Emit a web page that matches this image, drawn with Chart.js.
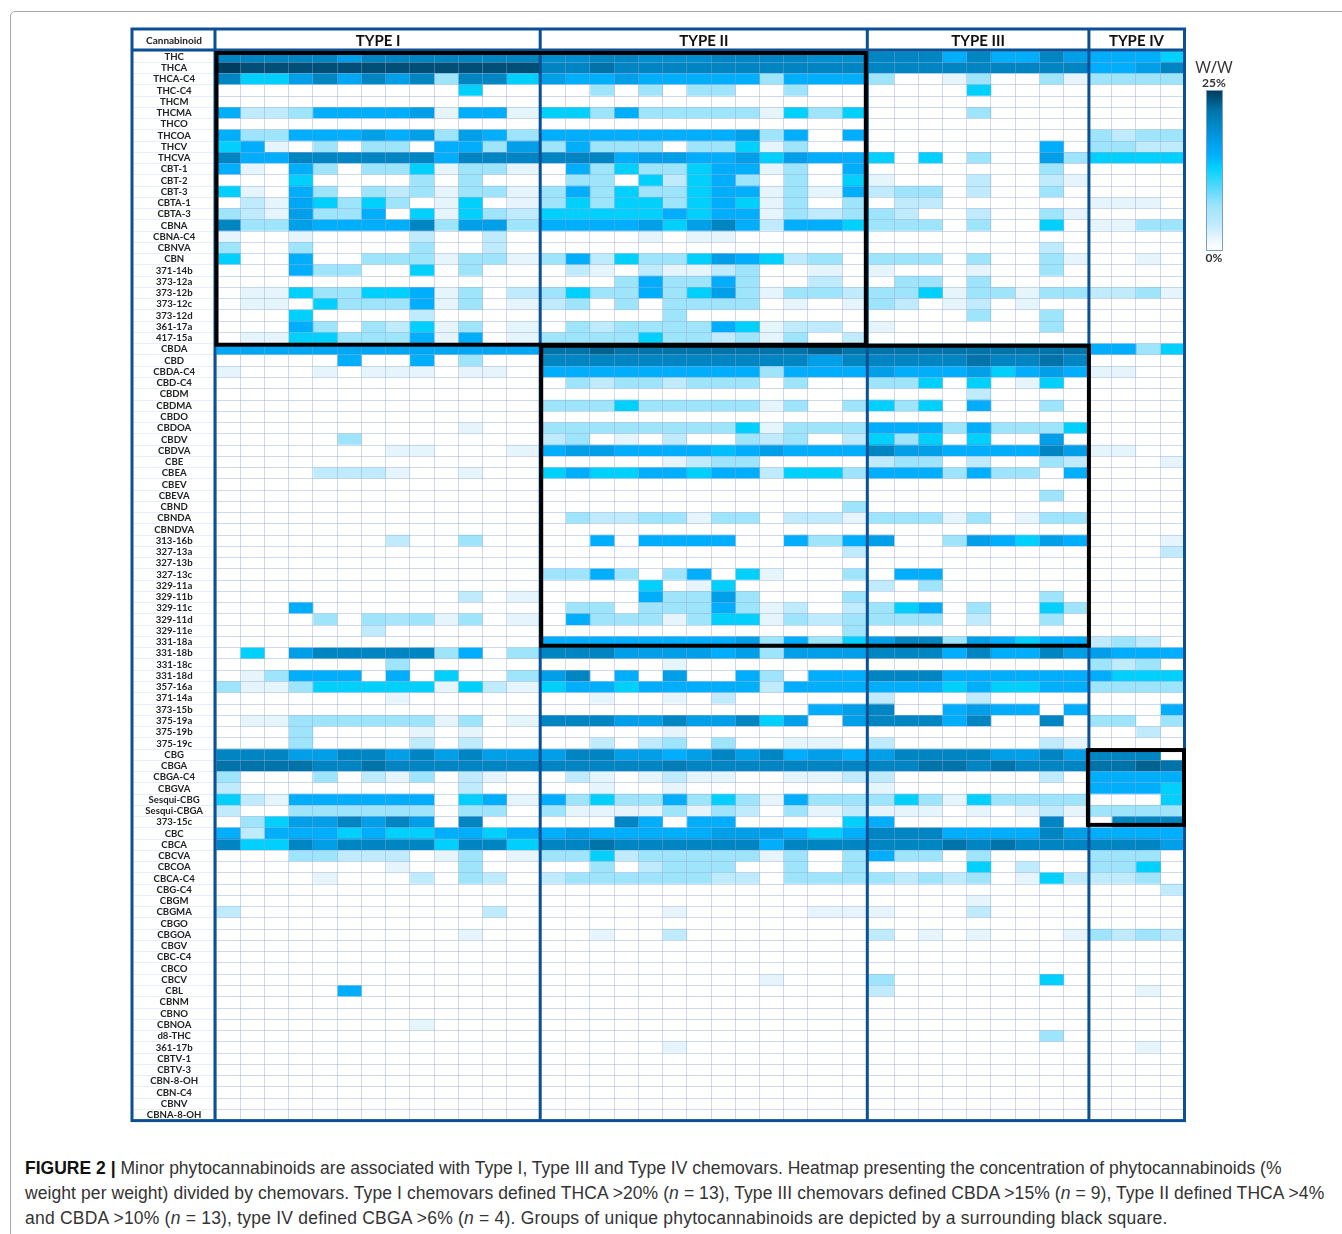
<!DOCTYPE html>
<html>
<head>
<meta charset="utf-8">
<script src="https://cdn.jsdelivr.net/npm/chart.js@4"></script>
<style>
  html, body { margin: 0; padding: 0; background: #fff; }
  body { position: relative; width: 1342px; height: 1234px; overflow: hidden; }
  canvas { position: absolute; left: 0; top: 0; filter: blur(0.35px); }
  #page-edge { position: absolute; left: 10px; top: 11px; width: 1340px; height: 1240px; border: 1px solid #a8a8a8; border-radius: 5px; }
  .abs { position: absolute; white-space: nowrap; }
  #head { left: 133px; width: 82px; top: 34px; text-align: center; font: bold 10px Lato; color: #222; }
  #ww { left: 1190px; width: 48px; top: 55px; text-align: center; font: 17px "Open Sans"; color: #333; }
  #top-lab { left: 1190px; width: 48px; top: 75px; text-align: center; font: bold 12px Lato; color: #333; }
  #bot-lab { left: 1190px; width: 48px; top: 250px; text-align: center; font: bold 12px Lato; color: #333; }
  #bar { left: 1206px; top: 90px; width: 15px; height: 159px; border: 1px solid #7d9ccb; }
  .cap { left: 25px; font: 17.5px "Liberation Sans"; color: #333; }
  .cap b { color: #111; }
</style>
</head>
<body>
<div id="page-edge"></div>
<canvas id="chart" width="1342" height="1130"></canvas>
<div class="abs" id="head">Cannabinoid</div>
<div class="abs" id="ww">W/W</div>
<div class="abs" id="top-lab">25%</div>
<div class="abs" id="bar"></div>
<div class="abs" id="bot-lab">0%</div>
<div class="abs cap" style="top:1158px;letter-spacing:0.01px"><b>FIGURE 2 |</b> Minor phytocannabinoids are associated with Type I, Type III and Type IV chemovars. Heatmap presenting the concentration of phytocannabinoids (%</div>
<div class="abs cap" style="top:1183px;letter-spacing:0.08px">weight per weight) divided by chemovars. Type I chemovars defined THCA &gt;20% (<i>n</i> = 13), Type III chemovars defined CBDA &gt;15% (<i>n</i> = 9), Type II defined THCA &gt;4%</div>
<div class="abs cap" style="top:1208px;letter-spacing:0.21px">and CBDA &gt;10% (<i>n</i> = 13), type IV defined CBGA &gt;6% (<i>n</i> = 4). Groups of unique phytocannabinoids are depicted by a surrounding black square.</div>
<script>
const cannabinoids = ['THC','THCA','THCA-C4','THC-C4','THCM','THCMA','THCO','THCOA','THCV','THCVA','CBT-1','CBT-2','CBT-3','CBTA-1','CBTA-3','CBNA','CBNA-C4','CBNVA','CBN','371-14b','373-12a','373-12b','373-12c','373-12d','361-17a','417-15a',
  'CBDA','CBD','CBDA-C4','CBD-C4','CBDM','CBDMA','CBDO','CBDOA','CBDV','CBDVA','CBE','CBEA','CBEV','CBEVA','CBND','CBNDA','CBNDVA','313-16b','327-13a','327-13b','327-13c','329-11a','329-11b','329-11c','329-11d','329-11e','331-18a',
  '331-18b','331-18c','331-18d','357-16a','371-14a','373-15b','375-19a','375-19b','375-19c',
  'CBG','CBGA','CBGA-C4','CBGVA','Sesqui-CBG','Sesqui-CBGA','373-15c','CBC','CBCA','CBCVA','CBCOA','CBCA-C4','CBG-C4','CBGM','CBGMA','CBGO','CBGOA','CBGV','CBC-C4','CBCO','CBCV','CBL','CBNM','CBNO','CBNOA','d8-THC','361-17b','CBTV-1','CBTV-3','CBN-8-OH','CBN-C4','CBNV','CBNA-8-OH'];

const chemovarTypes = ['TYPE I', 'TYPE II', 'TYPE III', 'TYPE IV'];

// % w/w, one row per cannabinoid, one column per chemovar
const typeI = [
  [20,20,20,20,20,17,20,20,20,20,20,20,20],
  [25,24,24,24,24,24,24,24,24,24,24,24,24],
  [20,13,13,17,20,16,20,17,20,7,20,20,13],
  [0,0,0,0,0,0,0,0,0,0,13,0,0],
  [0,0,0,0,0,0,0,0,0,0,0,0,0],
  [15,4,4,7,15,15,15,15,17,2,15,15,2],
  [0,0,0,0,0,0,0,0,0,0,0,0,0],
  [15,7,7,15,15,15,17,15,17,7,17,15,7],
  [13,15,2,0,7,0,7,7,0,15,15,7,17],
  [20,15,15,20,20,20,20,20,20,15,20,20,20],
  [15,2,0,15,7,0,7,7,13,2,7,7,2],
  [0,0,0,13,0,0,0,0,7,0,7,0,0],
  [13,2,0,15,7,0,7,4,7,2,7,7,2],
  [0,4,2,16,13,7,13,7,0,2,13,0,2],
  [7,4,2,17,7,7,15,0,13,2,13,7,4],
  [20,7,7,17,15,15,15,15,20,7,17,17,7],
  [2,0,0,2,0,0,0,0,4,0,0,4,0],
  [7,0,0,7,0,0,0,0,7,0,0,4,0],
  [13,0,0,15,0,0,7,7,7,2,7,7,2],
  [0,0,0,15,7,7,0,0,13,0,7,0,0],
  [0,0,0,0,0,0,0,0,0,0,0,0,0],
  [0,2,2,13,7,7,13,13,15,2,7,0,4],
  [0,2,2,0,13,7,7,7,15,2,7,0,2],
  [0,0,0,13,0,0,0,0,4,0,0,0,0],
  [0,0,0,15,7,0,7,4,13,2,7,0,2],
  [0,2,2,13,13,7,7,7,15,2,15,0,2],
  // CBDA
  [16,16,16,16,16,16,16,16,16,16,16,16,16],
  [0,0,0,0,0,15,0,0,15,0,7,0,0],
  [2,0,0,0,2,0,2,2,2,0,2,2,0],
  [0,0,0,0,0,0,0,0,0,0,0,0,0],
  [0,0,0,0,0,0,0,0,0,0,0,0,0],
  [0,0,0,0,0,0,0,0,0,0,0,0,0],
  [0,0,0,0,0,0,0,0,0,0,0,0,0],
  [0,0,0,0,0,0,0,0,0,0,2,0,0],
  [0,0,0,0,0,7,0,0,0,0,0,0,0],
  [0,0,0,0,0,0,0,2,2,0,0,0,2],
  [0,0,0,0,0,0,0,0,0,0,0,0,0],
  [0,0,0,0,4,4,4,2,0,0,2,0,0],
  [0,0,0,0,0,0,0,0,0,0,0,0,0],
  [0,0,0,0,0,0,0,0,0,0,0,0,0],
  [0,0,0,0,0,0,0,0,0,0,0,0,0],
  [0,0,0,0,0,0,0,0,0,0,0,0,0],
  [0,0,0,0,0,0,0,0,0,0,0,0,0],
  [0,0,0,0,0,0,0,4,0,0,7,0,0],
  [0,0,0,0,0,0,0,0,0,0,0,0,0],
  [0,0,0,0,0,0,0,0,0,0,0,0,0],
  [0,0,0,0,0,0,0,0,0,0,0,0,0],
  [0,0,0,0,0,0,0,0,0,0,0,0,0],
  [0,0,0,0,0,0,0,0,0,0,4,0,2],
  [0,0,0,15,0,0,0,0,0,0,0,0,0],
  [0,0,0,0,7,0,7,6,7,2,7,0,2],
  [0,0,0,0,0,0,4,0,0,0,0,0,0],
  [0,0,0,0,0,0,0,0,0,0,0,0,0],
  // 331-18b
  [0,13,0,17,20,20,20,20,20,7,15,0,7],
  [0,0,0,0,0,0,0,7,0,0,0,0,0],
  [0,2,7,15,15,15,0,15,0,13,0,0,7],
  [7,2,2,7,13,13,13,13,13,2,13,4,2],
  [0,0,0,0,0,0,0,2,0,0,0,0,0],
  [0,0,0,0,0,0,0,0,0,0,0,0,0],
  [0,2,2,7,7,7,7,7,7,2,7,0,2],
  [0,0,0,7,0,0,0,0,2,0,2,0,0],
  [0,0,0,7,0,0,0,0,4,0,4,0,0],
  // CBG
  [20,20,20,17,17,20,20,17,20,17,20,17,17],
  [22,22,22,22,20,20,22,20,20,20,20,20,20],
  [7,0,0,0,7,0,4,2,7,0,4,2,0],
  [4,0,0,0,0,0,0,0,0,0,4,0,0],
  [13,4,2,15,15,15,15,15,15,0,13,15,2],
  [4,0,0,7,7,7,7,7,7,0,7,7,0],
  [0,7,13,17,17,20,17,20,17,0,20,0,0],
  [15,4,15,15,15,13,15,13,13,15,15,13,15],
  [20,13,13,20,17,20,20,20,20,13,20,20,13],
  [0,0,0,7,7,4,4,4,0,2,7,0,2],
  [0,0,0,0,0,0,0,2,0,0,7,0,0],
  [0,0,0,0,2,0,0,0,4,0,7,4,0],
  [0,0,0,0,0,0,0,0,0,0,0,0,0],
  [0,0,0,0,0,0,0,0,0,0,0,0,0],
  [4,0,0,0,0,0,0,0,0,0,0,4,0],
  [0,0,0,0,0,0,0,0,0,0,0,0,0],
  [0,0,0,0,0,0,0,0,0,0,2,0,0],
  [0,0,0,0,0,0,0,0,0,0,0,0,0],
  [0,0,0,0,0,0,0,0,0,0,0,0,0],
  [0,0,0,0,0,0,0,0,0,0,0,0,0],
  [0,0,0,0,0,0,0,0,0,0,0,0,0],
  [0,0,0,0,0,15,0,0,0,0,0,0,0],
  [0,0,0,0,0,0,0,0,0,0,0,0,0],
  [0,0,0,0,0,0,0,0,0,0,0,0,0],
  [0,0,0,0,0,0,0,0,2,0,0,0,0],
  [0,0,0,0,0,0,0,0,0,0,0,0,0],
  [0,0,0,0,0,0,0,0,0,0,0,0,0],
  [0,0,0,0,0,0,0,0,0,0,0,0,0],
  [0,0,0,0,0,0,0,0,0,0,0,0,0],
  [0,0,0,0,0,0,0,0,0,0,0,0,0],
  [0,0,0,0,0,0,0,0,0,0,0,0,0],
  [0,0,0,0,0,0,0,0,0,0,0,0,0],
  [0,0,0,0,0,0,0,0,0,0,0,0,0]
];

const typeII = [
  [19,19,20,20,19,19,19,20,20,20,20,19,19],
  [20,20,22,20,20,20,20,20,20,20,20,20,20],
  [17,15,15,17,15,15,15,15,15,7,15,15,15],
  [0,0,7,0,7,0,7,7,0,0,7,0,0],
  [0,0,0,0,0,0,0,0,0,0,0,0,0],
  [13,13,7,15,7,7,7,7,7,2,13,7,13],
  [0,0,0,0,0,0,0,0,0,0,0,0,0],
  [15,15,15,15,15,15,15,15,17,7,15,0,15],
  [7,15,7,7,7,0,7,7,13,2,7,0,0],
  [20,20,20,15,17,17,15,15,17,13,17,15,15],
  [0,15,7,13,7,7,13,15,15,2,7,0,15],
  [0,7,7,0,13,4,13,15,7,0,7,0,13],
  [7,15,7,13,7,7,13,15,15,2,7,2,15],
  [7,13,7,13,13,7,13,15,13,2,7,0,7],
  [13,13,13,13,13,15,13,15,15,2,7,4,7],
  [15,15,15,15,17,13,17,20,15,4,15,15,13],
  [0,0,0,0,2,0,2,2,0,0,0,0,0],
  [0,0,0,0,0,0,0,0,0,0,0,0,0],
  [7,15,4,13,7,7,13,17,15,13,4,7,0],
  [0,4,2,0,4,2,2,4,7,0,0,2,0],
  [0,0,0,7,15,7,7,15,7,0,0,4,0],
  [7,13,7,7,15,7,13,17,7,2,7,7,4],
  [4,7,0,7,0,7,7,7,7,0,2,0,2],
  [0,0,0,0,0,7,0,0,0,0,0,0,0],
  [0,7,4,7,7,7,7,15,13,2,4,4,0],
  [7,7,7,7,13,7,7,4,7,2,7,0,4],
  // CBDA
  [22,22,23,22,22,22,22,22,22,22,22,23,22],
  [20,20,20,20,20,20,20,20,20,20,20,17,20],
  [15,15,15,15,15,15,15,15,15,7,15,15,15],
  [0,7,4,7,7,4,7,7,7,0,7,0,0],
  [0,0,0,0,0,0,0,0,0,0,0,0,0],
  [7,7,7,13,7,7,7,7,7,2,7,0,7],
  [0,0,0,0,0,0,0,0,0,0,0,0,0],
  [7,7,7,7,7,7,7,7,13,2,7,7,7],
  [4,7,0,2,0,4,0,0,7,4,7,0,4],
  [15,17,17,15,15,15,15,14,15,17,15,15,15],
  [0,0,0,0,0,2,4,7,7,0,0,0,0],
  [13,15,13,13,15,15,13,15,15,4,13,13,7],
  [0,0,0,0,0,0,0,0,0,0,0,0,0],
  [0,0,0,0,0,0,0,0,0,0,0,0,0],
  [0,0,0,0,0,0,0,0,0,0,0,0,7],
  [0,7,4,4,7,7,2,7,7,0,4,4,2],
  [0,0,0,0,0,0,0,0,0,0,0,0,0],
  [0,0,15,0,15,15,15,15,0,0,15,7,15],
  [0,0,0,0,0,0,0,0,0,0,0,0,4],
  [0,0,0,0,0,0,0,0,0,0,0,0,0],
  [7,7,15,7,0,7,15,0,13,2,0,0,7],
  [0,0,0,0,13,0,2,13,0,0,0,0,0],
  [0,0,0,0,15,7,7,17,7,0,0,0,7],
  [0,7,7,0,7,7,7,15,7,2,4,0,4],
  [0,15,7,7,7,2,7,13,13,2,7,4,7],
  [0,0,0,0,0,0,0,0,0,0,0,0,7],
  [15,15,15,15,15,15,15,15,17,7,15,7,13],
  // 331-18b
  [20,20,20,17,17,17,17,15,17,7,17,17,17],
  [0,0,0,0,0,2,0,0,0,0,0,0,0],
  [17,20,0,15,0,17,0,0,15,7,0,15,15],
  [13,15,15,13,15,15,15,15,15,4,15,15,15],
  [0,0,2,0,0,2,0,4,0,0,0,0,0],
  [0,0,0,0,0,0,0,0,0,0,0,15,17],
  [20,20,20,17,17,20,17,17,20,13,17,0,17],
  [0,0,0,0,0,2,0,0,0,0,0,0,0],
  [0,0,4,0,4,7,0,7,0,0,2,2,0],
  // CBG
  [17,20,20,17,17,15,17,20,17,20,15,17,15],
  [20,20,20,20,20,21,20,20,20,20,20,20,20],
  [0,4,2,0,2,4,2,2,0,0,2,2,4],
  [0,0,2,0,0,2,0,0,0,0,0,0,0],
  [15,7,13,7,7,15,7,13,7,2,15,7,7],
  [7,2,2,2,2,7,2,7,4,0,7,2,4],
  [0,0,0,20,15,0,15,15,0,0,0,0,13],
  [15,17,15,15,15,15,15,17,17,17,15,13,15],
  [20,20,22,20,20,20,20,20,20,15,20,20,20],
  [7,7,13,4,7,7,7,7,7,2,7,0,7],
  [0,0,7,0,4,7,7,7,0,0,7,0,7],
  [4,7,7,7,7,7,7,4,4,0,7,7,7],
  [0,0,0,0,0,0,0,0,0,0,0,0,0],
  [0,0,0,0,0,0,0,0,0,0,0,0,0],
  [0,0,0,0,0,2,0,0,0,0,0,2,2],
  [0,0,0,0,0,0,0,0,0,0,0,0,0],
  [0,0,2,0,0,4,0,0,0,0,0,0,0],
  [0,0,0,0,0,0,0,0,0,0,0,0,0],
  [0,0,0,0,0,0,0,0,0,0,0,0,0],
  [0,0,0,0,0,0,0,0,0,0,0,0,0],
  [0,0,0,0,0,0,0,0,0,2,0,0,0],
  [0,0,0,0,0,0,0,0,0,0,0,0,0],
  [0,0,0,0,0,0,0,0,0,0,0,0,0],
  [0,0,0,0,0,0,0,0,0,0,0,0,0],
  [0,0,0,0,0,0,0,0,0,0,0,0,0],
  [0,0,0,0,0,0,0,0,0,0,0,0,0],
  [0,0,0,0,0,2,0,0,0,0,0,0,0],
  [0,0,0,0,0,0,0,0,0,0,0,0,0],
  [0,0,0,0,0,0,0,0,0,0,0,0,0],
  [0,0,0,0,0,0,0,0,0,0,0,0,0],
  [0,0,0,0,0,0,0,0,0,0,0,0,0],
  [0,0,0,0,0,0,0,0,0,0,0,0,0],
  [0,0,0,0,0,0,0,0,0,0,0,0,0]
];

const typeIII = [
  [20,20,20,15,20,15,15,20,17],
  [20,20,20,20,20,20,20,20,20],
  [7,0,0,2,7,0,0,7,2],
  [0,0,0,0,13,0,0,0,0],
  [0,0,0,0,0,0,0,0,0],
  [0,0,0,0,7,0,0,0,0],
  [0,0,0,0,0,0,0,0,0],
  [0,0,0,0,0,0,0,0,0],
  [0,0,0,0,0,0,0,15,0],
  [13,0,13,0,7,0,0,17,7],
  [0,0,0,0,0,0,0,7,0],
  [2,0,0,0,4,0,0,4,2],
  [4,7,7,0,4,0,0,7,0],
  [0,4,4,0,0,0,0,0,0],
  [7,4,0,0,4,0,0,7,2],
  [7,7,7,0,7,0,0,13,0],
  [0,0,0,0,0,0,0,0,0],
  [0,0,0,0,0,0,0,4,0],
  [7,7,7,0,7,0,0,7,2],
  [2,0,0,0,2,0,0,7,0],
  [0,7,7,0,7,0,0,0,0],
  [7,7,13,2,7,7,2,7,7],
  [7,4,0,2,4,0,2,0,0],
  [0,0,0,0,7,0,0,7,0],
  [2,0,0,0,0,0,0,7,0],
  [0,0,0,0,0,0,0,0,0],
  // CBDA
  [22,22,22,22,22,22,22,22,22],
  [20,20,20,20,22,20,20,22,20],
  [17,15,15,15,17,13,15,17,15],
  [7,7,13,0,13,0,2,13,0],
  [0,0,0,0,4,0,0,0,0],
  [13,7,13,0,15,0,0,7,0],
  [0,0,0,0,0,0,0,0,0],
  [15,15,15,7,15,7,7,7,13],
  [13,7,13,0,13,0,0,17,0],
  [20,17,17,15,15,15,15,20,17],
  [4,7,7,0,4,0,0,7,4],
  [15,15,15,7,15,7,7,0,15],
  [0,0,0,0,0,0,0,0,0],
  [0,0,0,0,0,0,0,7,0],
  [0,0,0,0,0,0,0,0,0],
  [7,7,7,2,7,0,2,7,7],
  [0,0,0,0,0,0,0,0,0],
  [17,0,0,7,17,15,13,17,15],
  [0,0,0,0,0,0,0,0,0],
  [0,0,0,0,0,0,0,0,0],
  [0,15,15,0,0,0,0,0,0],
  [4,0,7,0,0,0,0,0,0],
  [0,0,0,0,0,0,0,7,0],
  [7,13,15,0,7,0,0,13,7],
  [7,7,7,0,4,0,0,7,0],
  [0,0,0,0,0,0,0,0,0],
  [17,20,20,7,17,15,13,15,15],
  // 331-18b
  [20,20,20,15,20,15,15,20,17],
  [0,0,0,0,0,0,0,0,0],
  [20,20,20,15,15,15,15,15,15],
  [15,15,15,13,15,13,13,15,15],
  [4,0,0,0,4,0,0,0,0],
  [20,0,0,15,17,15,15,0,15],
  [20,20,20,15,20,0,0,20,0],
  [0,0,0,0,0,0,0,0,0],
  [4,0,0,0,0,0,0,4,2],
  // CBG
  [17,20,20,20,20,17,17,20,17],
  [20,20,22,22,20,22,20,20,20],
  [4,0,0,0,0,0,0,4,0],
  [2,0,0,0,0,0,0,0,0],
  [7,13,7,2,13,7,7,7,7],
  [2,2,2,0,2,0,2,4,2],
  [15,0,0,0,0,0,0,20,0],
  [20,20,20,15,15,15,15,20,17],
  [20,20,20,22,20,22,20,20,20],
  [15,7,7,0,7,0,0,0,0],
  [0,0,0,0,13,0,4,0,0],
  [7,4,7,4,7,0,2,13,4],
  [0,0,0,0,0,0,0,0,0],
  [0,0,0,0,2,0,0,0,0],
  [2,0,0,0,4,0,0,0,0],
  [0,0,0,0,0,0,0,0,0],
  [4,0,2,0,2,0,0,0,2],
  [0,0,0,0,0,0,0,0,0],
  [0,0,0,0,0,0,0,0,0],
  [0,0,0,0,0,0,0,0,0],
  [7,0,0,0,0,0,0,13,0],
  [4,0,0,0,0,0,0,0,0],
  [0,0,0,0,0,0,0,0,0],
  [0,0,0,0,0,0,0,0,0],
  [0,0,0,0,0,0,0,0,0],
  [0,0,0,0,0,0,0,7,0],
  [0,0,0,0,0,0,0,0,0],
  [0,0,0,0,0,0,0,0,0],
  [0,0,0,0,0,0,0,0,0],
  [0,0,0,0,0,0,0,0,0],
  [0,0,0,0,0,0,0,0,0],
  [0,0,0,0,0,0,0,0,0],
  [0,0,0,0,0,0,0,0,0]
];

const typeIV = [
  [15,15,15,13],[15,15,17,20],[7,7,7,7],[0,0,0,0],[0,0,0,0],[0,0,0,0],[0,0,0,0],[7,4,7,7],[7,7,4,4],[13,13,13,13],
  [0,0,0,0],[0,0,0,0],[0,0,0,0],[2,2,2,0],[0,0,0,0],[2,2,7,7],[0,0,0,0],[0,0,0,0],[0,0,2,0],[0,0,0,0],
  [0,0,0,0],[4,4,7,2],[0,0,0,0],[0,0,0,0],[0,0,0,0],[0,0,0,0],
  // CBDA
  [15,15,7,13],[0,0,0,0],[2,2,0,0],[0,0,0,0],[0,0,0,0],[0,0,0,0],[0,0,0,0],[0,0,0,0],[0,0,0,0],[2,2,0,0],
  [0,0,0,2],[0,0,0,0],[0,0,0,0],[0,0,0,0],[0,0,0,0],[0,0,0,0],[0,0,0,0],[0,0,0,2],[0,0,0,4],[0,0,0,0],
  [0,0,0,0],[0,0,0,0],[0,0,0,0],[0,0,0,0],[0,0,0,0],[0,0,0,0],[4,7,4,0],
  // 331-18b
  [17,15,15,15],[7,4,7,0],[15,13,13,13],[7,7,7,7],[0,0,0,0],[0,0,0,15],[7,7,0,7],[0,0,4,0],[0,0,0,0],
  // CBG
  [20,20,20,0],[22,22,23,22],[15,15,15,15],[15,15,15,13],[0,0,0,13],[7,7,7,7],[0,20,20,20],[15,15,15,15],[20,20,20,17],[7,7,7,0],
  [7,7,13,0],[4,4,7,0],[0,0,0,4],[0,0,0,0],[0,0,0,0],[0,0,0,0],[7,4,7,4],[0,0,0,0],[0,0,0,0],[0,0,0,0],
  [0,0,0,0],[0,0,2,0],[0,0,0,0],[0,0,0,0],[0,0,0,0],[0,0,0,0],[0,0,2,0],[0,0,0,0],[0,0,0,0],[0,0,0,0],
  [0,0,0,0],[0,0,0,0],[0,0,0,0]
];

// layout only: column widths on the x axis, the source table is not quite even
const columnWidths = [
  24.2,24.2,24.2,24.2,24.2,24.2,24.2,24.2,24.2,24.2,24.2,24.2,33.5,
  25.5,24.2,24.2,24.2,24.2,24.2,24.2,24.2,24.2,24.2,24.2,34.3,25,
  26.7,24.2,24.2,24.2,24.2,24.2,24.2,24.2,25.3,
  23,24,24.7,23.3
];
const groupSizes = [13, 13, 9, 4];

// colour ramp of the W/W bar: [% value, colour]
const rampStops = [[0,'#ffffff'],[2,'#e6f5fc'],[4,'#c0ebfc'],[7,'#9ee4fb'],[13,'#00d0fb'],[15,'#00aefb'],[17,'#009fe8'],[20,'#0085c3'],[22,'#0074a8'],[25,'#003d5e']];

// the boxes sit a little off the row and column edges in the source, nudge = [left, top, right, bottom]
const uniqueBoxes = [
  { firstRow: 'THC', lastRow: '417-15a', fromCol: 0, toCol: 26, nudge: [0.5, 2, -1.5, 1] },
  { firstRow: 'CBDA', lastRow: '331-18a', fromCol: 13, toCol: 35, nudge: [1, 2, 0, -2] },
  { firstRow: 'CBG', lastRow: '373-15c', fromCol: 35, toCol: 39, nudge: [-1, 1, 0, -3] }
];

const frameBlue = '#0b4f94';

function toRgb(hex) {
  return [1, 3, 5].map(i => parseInt(hex.slice(i, i + 2), 16));
}

function shade(v) {
  for (let i = 1; i < rampStops.length; i++) {
    const [v0, c0] = rampStops[i - 1];
    const [v1, c1] = rampStops[i];
    if (v <= v1) {
      const t = (v - v0) / (v1 - v0);
      const a = toRgb(c0), b = toRgb(c1);
      return 'rgb(' + a.map((x, k) => Math.round(x + (b[k] - x) * t)).join(',') + ')';
    }
  }
  return rampStops[rampStops.length - 1][1];
}

document.querySelector('#bar').style.background = 'linear-gradient(to top,' +
  rampStops.map(s => s[1] + ' ' + (s[0] / 25 * 100) + '%').join(',') + ')';

const rows = cannabinoids.map((_, r) => [...typeI[r], ...typeII[r], ...typeIII[r], ...typeIV[r]]);

const edges = [0];
columnWidths.forEach(w => edges.push(edges[edges.length - 1] + w));
const totalWidth = edges[edges.length - 1];

const groupEdges = [0];
groupSizes.forEach(n => groupEdges.push(groupEdges[groupEdges.length - 1] + n));
const groupCenters = groupSizes.map((_, i) => (edges[groupEdges[i]] + edges[groupEdges[i + 1]]) / 2);

const datasets = columnWidths.map((_, c) => ({
  label: 'chemovar ' + (c + 1),
  data: cannabinoids.map((name, r) => ({ y: name, x: [edges[c], edges[c + 1]], v: rows[r][c] })),
  backgroundColor: ctx => shade(ctx.raw ? ctx.raw.v : 0),
  borderWidth: 0,
  grouped: false,
  barPercentage: 1,
  categoryPercentage: 1
}));

// table frame, type separators and the black boxes, placed through the scales
const framePlugin = {
  id: 'frame',
  afterDraw(chart) {
    const { ctx, chartArea: area, scales: { x, y } } = chart;
    const left = y.left, top = chart.scales.x2.top, right = area.right, bottom = area.bottom;
    ctx.save();
    ctx.strokeStyle = frameBlue;
    ctx.lineWidth = 3;
    ctx.strokeRect(left, top, right - left + 0.5, bottom - top);
    ctx.beginPath();
    ctx.moveTo(area.left - 1, top); ctx.lineTo(area.left - 1, bottom);
    ctx.moveTo(left, area.top - 1); ctx.lineTo(right, area.top - 1);
    groupEdges.slice(1, -1).forEach(g => {
      const px = x.getPixelForValue(edges[g]);
      ctx.moveTo(px, top); ctx.lineTo(px, bottom);
    });
    ctx.stroke();

    ctx.strokeStyle = '#000';
    ctx.lineWidth = 4;
    const rowH = y.getPixelForValue(1) - y.getPixelForValue(0);
    uniqueBoxes.forEach(b => {
      const x0 = x.getPixelForValue(edges[b.fromCol]) + b.nudge[0];
      const x1 = x.getPixelForValue(edges[b.toCol]) + b.nudge[2];
      const y0 = y.getPixelForValue(cannabinoids.indexOf(b.firstRow)) - rowH / 2 + b.nudge[1];
      const y1 = y.getPixelForValue(cannabinoids.indexOf(b.lastRow)) + rowH / 2 + b.nudge[3];
      ctx.strokeRect(x0, y0, x1 - x0, y1 - y0);
    });
    ctx.restore();
  }
};

new Chart(document.querySelector('#chart'), {
  type: 'bar',
  data: { labels: cannabinoids, datasets },
  options: {
    indexAxis: 'y',
    responsive: false,
    animation: false,
    parsing: { xAxisKey: 'x', yAxisKey: 'y' },
    layout: { padding: { left: 132, top: 29, right: 158, bottom: 9.4 } },
    plugins: { legend: { display: false }, tooltip: { enabled: false } },
    scales: {
      x: {
        type: 'linear',
        min: 0,
        max: totalWidth,
        afterBuildTicks: s => { s.ticks = edges.map(v => ({ value: v })); },
        afterFit: s => { s.height = 0; },
        ticks: { display: false },
        border: { display: false },
        grid: { z: 1, color: 'rgba(140,165,210,0.42)', lineWidth: 1, drawTicks: false }
      },
      x2: {
        type: 'linear',
        position: 'top',
        min: 0,
        max: totalWidth,
        afterBuildTicks: s => { s.ticks = groupCenters.map(v => ({ value: v })); },
        afterFit: s => { s.height = 22; },
        ticks: {
          autoSkip: false,
          maxRotation: 0,
          padding: 0.5,
          color: '#111',
          font: { family: 'Lato', weight: 'bold', size: 15 },
          callback: (v, i) => chemovarTypes[i]
        },
        border: { display: false },
        grid: { display: false, drawTicks: false }
      },
      y: {
        type: 'category',
        offset: true,
        afterFit: s => { s.width = 84; },
        ticks: {
          autoSkip: false,
          crossAlign: 'center',
          padding: -69,
          color: '#222',
          font: { family: 'Lato', weight: 'bold', size: 9.6 }
        },
        border: { display: false },
        grid: {
          z: 1,
          offset: true,
          color: 'rgba(150,175,220,0.48)',
          tickColor: 'rgba(190,205,230,0.35)',
          tickLength: 82,
          lineWidth: 1
        }
      }
    }
  },
  plugins: [framePlugin]
});
</script>
</body>
</html>
